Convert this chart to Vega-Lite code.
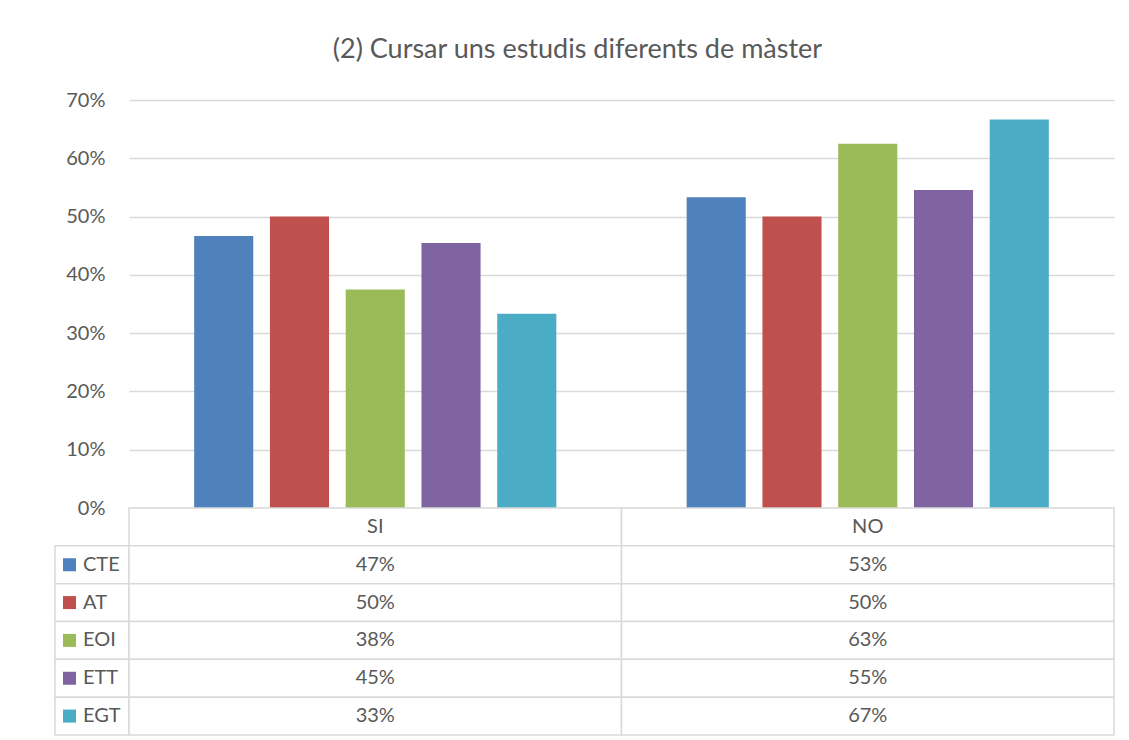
{
  "$schema": "https://vega.github.io/schema/vega-lite/v6.json",
  "background": "white",
  "padding": {"left": 54, "top": 36, "right": 16, "bottom": 5},
  "title": {"text": "(2) Cursar uns estudis diferents de màster", "font": "Lato", "fontSize": 27, "fontWeight": "normal", "color": "#595959", "anchor": "middle", "dx": -7, "offset": 26},
  "datasets": {
    "vals": [
      {"cat": "SI", "series": "CTE", "value": 0.4667},
      {"cat": "SI", "series": "AT", "value": 0.5},
      {"cat": "SI", "series": "EOI", "value": 0.375},
      {"cat": "SI", "series": "ETT", "value": 0.4545},
      {"cat": "SI", "series": "EGT", "value": 0.3333},
      {"cat": "NO", "series": "CTE", "value": 0.5333},
      {"cat": "NO", "series": "AT", "value": 0.5},
      {"cat": "NO", "series": "EOI", "value": 0.625},
      {"cat": "NO", "series": "ETT", "value": 0.5455},
      {"cat": "NO", "series": "EGT", "value": 0.6667}
    ],
    "hdr": [
      {"cat": "SI", "row": "hdr"},
      {"cat": "NO", "row": "hdr"}
    ]
  },
  "columns": 2,
  "spacing": 0,
  "bounds": "flush",
  "align": "each",
  "concat": [
    {
      "width": 74,
      "height": 408,
      "data": {"values": [{"k": 1}]},
      "mark": {"type": "point", "opacity": 0},
      "encoding": {}
    },
    {
      "width": 985,
      "height": 408,
      "data": {"name": "vals"},
      "mark": {"type": "bar"},
      "encoding": {
        "x": {"field": "cat", "type": "nominal", "scale": {"domain": ["SI", "NO"], "paddingInner": 0, "paddingOuter": 0}, "axis": null},
        "xOffset": {"field": "series", "type": "nominal", "scale": {"domain": ["CTE", "AT", "EOI", "ETT", "EGT"], "paddingInner": 0.22, "paddingOuter": 0.86}},
        "y": {"field": "value", "type": "quantitative", "scale": {"domain": [0, 0.7], "nice": false},
          "axis": {"format": ".0%", "values": [0, 0.1, 0.2, 0.3, 0.4, 0.5, 0.6, 0.7], "grid": true, "gridColor": "#d9d9d9", "gridWidth": 1.5, "domain": false, "ticks": false, "labelPadding": 24, "labelFont": "Lato", "labelFontSize": 20, "labelColor": "#595959", "title": null}},
        "color": {"field": "series", "type": "nominal", "scale": {"domain": ["CTE", "AT", "EOI", "ETT", "EGT"], "range": ["#4F81BD", "#C0504D", "#9BBB59", "#8064A2", "#4BACC6"]}, "legend": null}
      }
    },
    {
      "width": 74,
      "height": 227,
      "data": {"name": "vals"},
      "transform": [{"filter": "datum.cat == 'SI'"}],
      "encoding": {
        "y": {"field": "series", "type": "nominal", "scale": {"domain": ["hdr", "CTE", "AT", "EOI", "ETT", "EGT"], "paddingInner": 0, "paddingOuter": 0}, "axis": null}
      },
      "layer": [
        {"mark": {"type": "rect", "fill": "white", "stroke": "#d9d9d9", "strokeWidth": 1.5}},
        {"mark": {"type": "square", "size": 169, "opacity": 1, "xOffset": -22.5},
          "encoding": {"color": {"field": "series", "type": "nominal", "legend": null}}},
        {"mark": {"type": "text", "align": "left", "dx": -9, "font": "Lato", "fontSize": 20, "color": "#595959"},
          "encoding": {"text": {"field": "series"}}}
      ]
    },
    {
      "width": 985,
      "height": 227,
      "layer": [
        {
          "data": {"name": "hdr"},
          "encoding": {
            "x": {"field": "cat", "type": "nominal", "scale": {"domain": ["SI", "NO"], "paddingInner": 0, "paddingOuter": 0}, "axis": null},
            "y": {"field": "row", "type": "nominal", "scale": {"domain": ["hdr", "CTE", "AT", "EOI", "ETT", "EGT"], "paddingInner": 0, "paddingOuter": 0}, "axis": null}
          },
          "layer": [
            {"mark": {"type": "rect", "fill": "white", "stroke": "#d9d9d9", "strokeWidth": 1.5}},
            {"mark": {"type": "text", "font": "Lato", "fontSize": 20, "color": "#595959"}, "encoding": {"text": {"field": "cat"}}}
          ]
        },
        {
          "data": {"name": "vals"},
          "encoding": {
            "x": {"field": "cat", "type": "nominal", "axis": null},
            "y": {"field": "series", "type": "nominal", "axis": null}
          },
          "layer": [
            {"mark": {"type": "rect", "fill": "white", "stroke": "#d9d9d9", "strokeWidth": 1.5}},
            {"mark": {"type": "text", "font": "Lato", "fontSize": 20, "color": "#595959"}, "encoding": {"text": {"field": "value", "format": ".0%"}}}
          ]
        }
      ]
    }
  ],
  "config": {"view": {"stroke": null}, "font": "Lato"}
}
